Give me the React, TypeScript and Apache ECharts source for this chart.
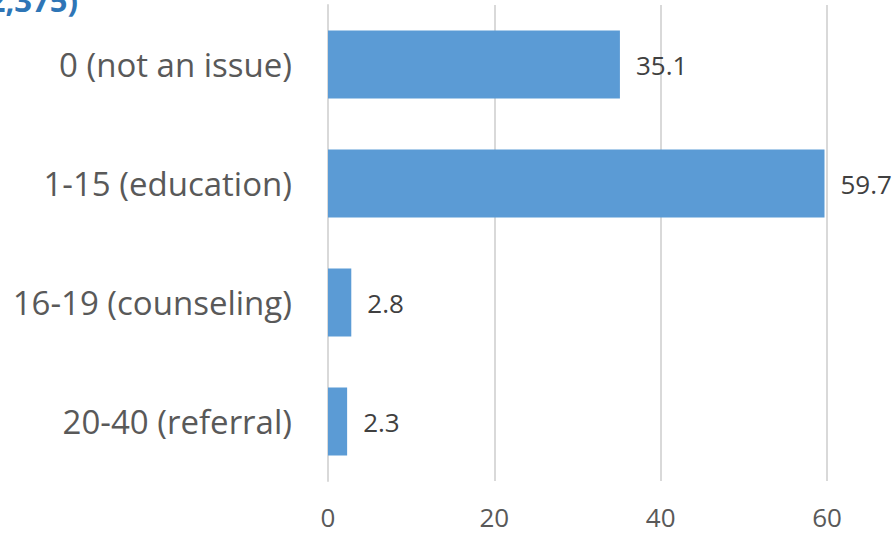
import React, { useEffect, useRef } from "react";
import * as echarts from "echarts";

const categories = ["0 (not an issue)", "1-15 (education)", "16-19 (counseling)", "20-40 (referral)"];
const values = [35.1, 59.7, 2.8, 2.3];
const xTicks = [0, 20, 40, 60];
const titleText = "(n=2,375)";

export default function App() {
  const ref = useRef<HTMLDivElement>(null);
  useEffect(() => {
    document.body.style.margin = "0";
    const chart = echarts.init(ref.current!, null, { renderer: "svg" });
    chart.setOption({
      animation: false,
      textStyle: { fontFamily: "Open Sans" },
      graphic: [
        {
          type: "text",
          right: 896 - 78,
          top: -16,
          style: {
            text: titleText,
            fill: "#2E75B6",
            font: "bold 31px 'Open Sans'",
          },
        },
      ],
      grid: { left: 328, right: 69, top: 5, bottom: 55 },
      xAxis: {
        type: "value",
        min: xTicks[0],
        max: xTicks[xTicks.length - 1],
        interval: 20,
        axisLine: { show: false },
        axisTick: { show: false },
        splitLine: { show: true, lineStyle: { color: "#D9D9D9", width: 2 } },
        axisLabel: { fontSize: 26, color: "#595959", margin: 23, fontFamily: "Open Sans" },
      },
      yAxis: {
        type: "category",
        data: categories,
        inverse: true,
        axisLine: { show: true, lineStyle: { color: "#D9D9D9", width: 2 } },
        axisTick: { show: false },
        axisLabel: { fontSize: 33, color: "#595959", margin: 36, fontFamily: "Open Sans" },
      },
      series: [
        {
          type: "bar",
          data: values,
          barCategoryGap: "43%",
          itemStyle: { color: "#5B9BD5" },
          label: {
            show: true,
            position: "right",
            distance: 16,
            fontSize: 26,
            color: "#404040",
            fontFamily: "Open Sans",
          },
        },
      ],
    });
    return () => chart.dispose();
  }, []);
  return <div ref={ref} style={{ width: 896, height: 536 }} />;
}
